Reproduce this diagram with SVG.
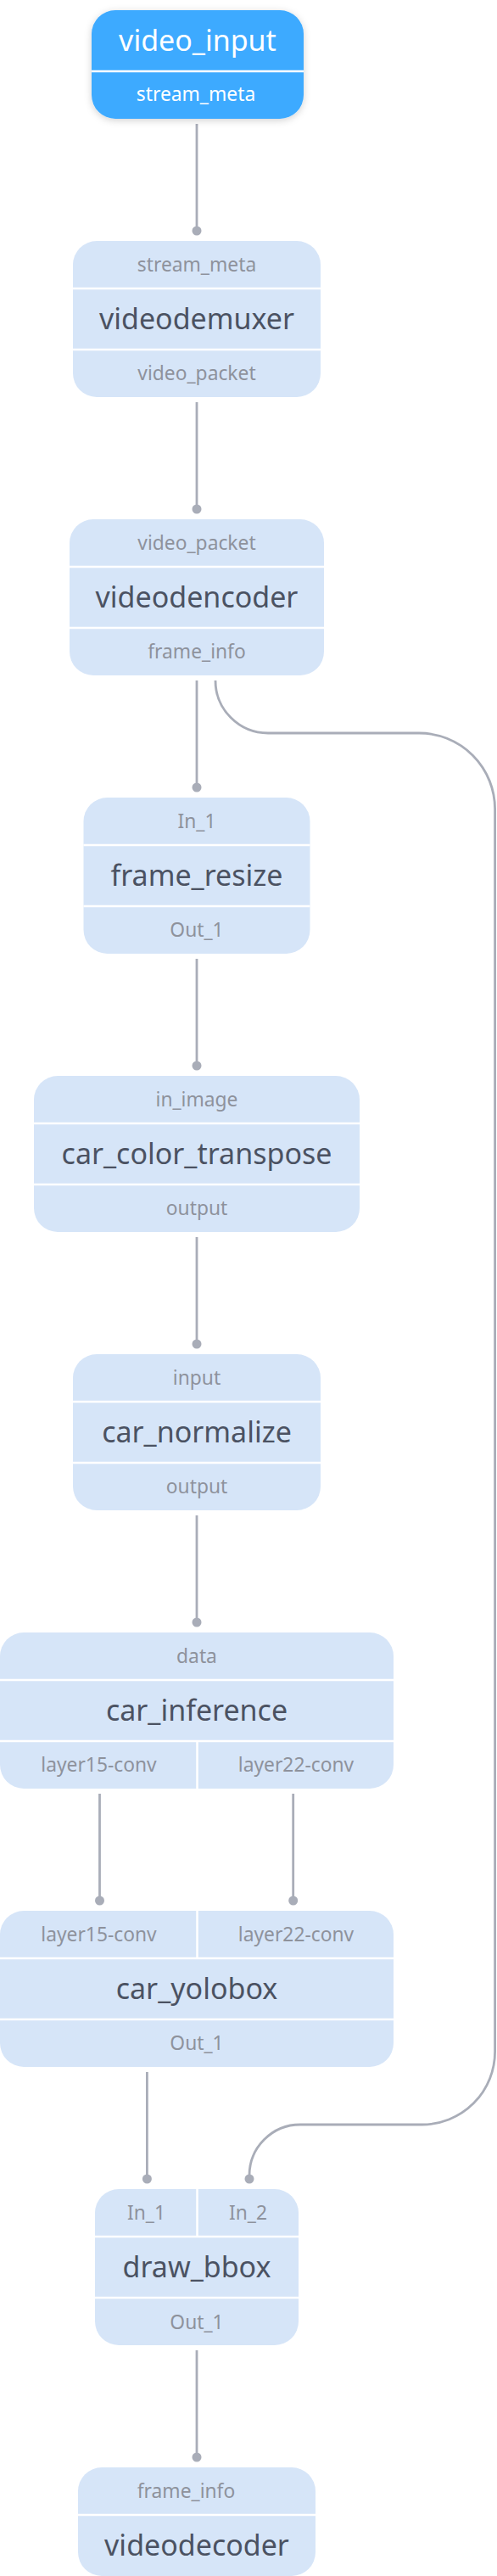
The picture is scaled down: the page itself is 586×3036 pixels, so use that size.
<svg xmlns="http://www.w3.org/2000/svg" width="586" height="3036" viewBox="0 0 586 3036">
<style>
.box{fill:#d6e5f8}
.div{stroke:#ffffff;stroke-width:2.5}
.title{font-family:"Noto Sans","Open Sans",sans-serif;font-size:34px;fill:#4b5262;text-anchor:middle}
.port{font-family:"Noto Sans","Open Sans",sans-serif;font-size:22.8px;fill:#8e929c;text-anchor:middle}
.edge{stroke:#a9adb8;stroke-width:2.8;fill:none}
.dot{fill:#a9adb8}
</style>
<defs>
<filter id="shadow" x="-20%" y="-20%" width="140%" height="140%">
<feDropShadow dx="0" dy="2" stdDeviation="4" flood-color="#000000" flood-opacity="0.18"/>
</filter>
</defs>
<rect width="586" height="3036" fill="#ffffff"/>
<g id="edges">
<line class="edge" x1="232" y1="146" x2="232" y2="272"/>
<line class="edge" x1="232" y1="474" x2="232" y2="600"/>
<line class="edge" x1="232" y1="802" x2="232" y2="928"/>
<line class="edge" x1="232" y1="1130" x2="232" y2="1256"/>
<line class="edge" x1="232" y1="1458" x2="232" y2="1584"/>
<line class="edge" x1="232" y1="1786" x2="232" y2="1912"/>
<line class="edge" x1="117.5" y1="2114" x2="117.5" y2="2240"/>
<line class="edge" x1="345.7" y1="2114" x2="345.7" y2="2240"/>
<line class="edge" x1="173.4" y1="2442" x2="173.4" y2="2568"/>
<line class="edge" x1="232" y1="2770" x2="232" y2="2896"/>
<path class="edge" d="M254 802 A62 62 0 0 0 316 864 L494 864 A89.6 89.6 0 0 1 583.6 953.6 L583.6 2418 A86 86 0 0 1 497.6 2504 L354 2504 A60 60 0 0 0 294 2564 L294 2568"/>
<circle class="dot" cx="232" cy="272" r="5.5"/>
<circle class="dot" cx="232" cy="600" r="5.5"/>
<circle class="dot" cx="232" cy="928" r="5.5"/>
<circle class="dot" cx="232" cy="1256" r="5.5"/>
<circle class="dot" cx="232" cy="1584" r="5.5"/>
<circle class="dot" cx="232" cy="1912" r="5.5"/>
<circle class="dot" cx="117.5" cy="2240" r="5.5"/>
<circle class="dot" cx="345.7" cy="2240" r="5.5"/>
<circle class="dot" cx="173.4" cy="2568" r="5.5"/>
<circle class="dot" cx="294" cy="2568" r="5.5"/>
<circle class="dot" cx="232" cy="2896" r="5.5"/>
</g>
<g id="video_input">
<rect x="108" y="12" width="250" height="128" rx="28" fill="#3eaaff" filter="url(#shadow)"/>
<line class="div" x1="108" y1="84" x2="358" y2="84"/>
<text class="title" x="233" y="60" style="fill:#ffffff">video_input</text>
<text class="port" x="231" y="119.3" style="fill:#ffffff">stream_meta</text>
</g>
<g id="videodemuxer">
<rect class="box" x="86" y="284" width="292" height="184" rx="28"/>
<line class="div" x1="86" y1="340" x2="378" y2="340"/>
<line class="div" x1="86" y1="412" x2="378" y2="412"/>
<text class="port" x="232" y="320">stream_meta</text>
<text class="title" x="232" y="387.5">videodemuxer</text>
<text class="port" x="232" y="448">video_packet</text>
</g>
<g id="videodencoder">
<rect class="box" x="82" y="612" width="300" height="184" rx="28"/>
<line class="div" x1="82" y1="668" x2="382" y2="668"/>
<line class="div" x1="82" y1="740" x2="382" y2="740"/>
<text class="port" x="232" y="648">video_packet</text>
<text class="title" x="232" y="715.5">videodencoder</text>
<text class="port" x="232" y="776">frame_info</text>
</g>
<g id="frame_resize">
<rect class="box" x="98.5" y="940" width="267" height="184" rx="28"/>
<line class="div" x1="98.5" y1="996" x2="365.5" y2="996"/>
<line class="div" x1="98.5" y1="1068" x2="365.5" y2="1068"/>
<text class="port" x="232" y="976">In_1</text>
<text class="title" x="232" y="1043.5">frame_resize</text>
<text class="port" x="232" y="1104">Out_1</text>
</g>
<g id="car_color_transpose">
<rect class="box" x="40" y="1268" width="384" height="184" rx="28"/>
<line class="div" x1="40" y1="1324" x2="424" y2="1324"/>
<line class="div" x1="40" y1="1396" x2="424" y2="1396"/>
<text class="port" x="232" y="1304">in_image</text>
<text class="title" x="232" y="1371.5">car_color_transpose</text>
<text class="port" x="232" y="1432">output</text>
</g>
<g id="car_normalize">
<rect class="box" x="86" y="1596" width="292" height="184" rx="28"/>
<line class="div" x1="86" y1="1652" x2="378" y2="1652"/>
<line class="div" x1="86" y1="1724" x2="378" y2="1724"/>
<text class="port" x="232" y="1632">input</text>
<text class="title" x="232" y="1699.5">car_normalize</text>
<text class="port" x="232" y="1760">output</text>
</g>
<g id="car_inference">
<rect class="box" x="0" y="1924" width="464" height="184" rx="28"/>
<line class="div" x1="0" y1="1980" x2="464" y2="1980"/>
<line class="div" x1="0" y1="2052" x2="464" y2="2052"/>
<line class="div" x1="232.5" y1="2052" x2="232.5" y2="2108"/>
<text class="port" x="116.5" y="2088">layer15-conv</text>
<text class="port" x="349" y="2088">layer22-conv</text>
<text class="port" x="232" y="1960">data</text>
<text class="title" x="232" y="2027.5">car_inference</text>
</g>
<g id="car_yolobox">
<rect class="box" x="0" y="2252" width="464" height="184" rx="28"/>
<line class="div" x1="0" y1="2308" x2="464" y2="2308"/>
<line class="div" x1="0" y1="2380" x2="464" y2="2380"/>
<line class="div" x1="232.5" y1="2252" x2="232.5" y2="2308"/>
<text class="port" x="116.5" y="2288">layer15-conv</text>
<text class="port" x="349" y="2288">layer22-conv</text>
<text class="title" x="232" y="2355.5">car_yolobox</text>
<text class="port" x="232" y="2416">Out_1</text>
</g>
<g id="draw_bbox">
<rect class="box" x="112" y="2580" width="240" height="184" rx="28"/>
<line class="div" x1="112" y1="2636" x2="352" y2="2636"/>
<line class="div" x1="112" y1="2708" x2="352" y2="2708"/>
<line class="div" x1="232.5" y1="2580" x2="232.5" y2="2636"/>
<text class="port" x="172.5" y="2616">In_1</text>
<text class="port" x="292.5" y="2616">In_2</text>
<text class="title" x="232" y="2683.5">draw_bbox</text>
<text class="port" x="232" y="2745">Out_1</text>
</g>
<g id="videodecoder">
<rect class="box" x="92" y="2908" width="280" height="128" rx="28"/>
<line class="div" x1="92" y1="2964" x2="372" y2="2964"/>
<text class="port" x="219.5" y="2943.5">frame_info</text>
<text class="title" x="232" y="3011.5">videodecoder</text>
</g>
</svg>
